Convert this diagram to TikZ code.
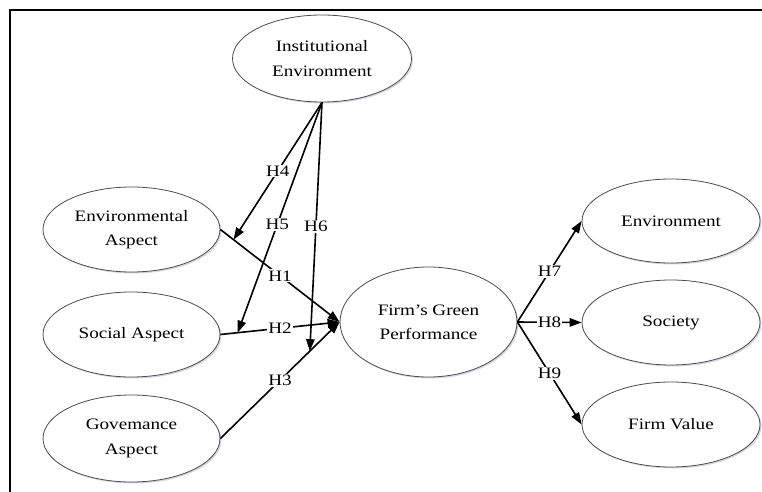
\documentclass[tikz,border=0pt]{standalone}
\usepackage{fontspec}
\setmainfont{Liberation Serif}[FakeStretch=1.2]
\usetikzlibrary{shapes.geometric,arrows.meta,shadows}
\begin{document}
\begin{tikzpicture}[x=1bp,y=-1bp,
  el/.style={ellipse, draw=black!70, line width=0.8bp, fill=white,
    inner sep=0pt, minimum width=177bp, minimum height=85bp, align=center,
    font=\fontsize{16}{24.5}\selectfont,
    drop shadow={shadow xshift=1.5bp, shadow yshift=-1.5bp, fill=blue!30!gray, opacity=0.25}},
  conn/.style={line width=1.6bp, -{Triangle[length=12bp,width=8.5bp]}},
  lbl/.style={fill=white, inner sep=1bp, font=\fontsize{16}{18}\selectfont},
  frame/.style={line width=2.6bp}]
\useasboundingbox (0,0) rectangle (762,492);
\fill[white] (0,0) rectangle (762,492);
\draw[frame] (10,492) -- (10,10) -- (762,10);

\node[el, minimum width=179bp, minimum height=87bp] (inst) at (322,58.5) {Institutional\\Environment};
\node[el] (ea) at (131.5,229.5) {Environmental\\Aspect};
\node[el] (sa) at (131.5,334.5) {Social Aspect};
\node[el, minimum height=87bp] (ga) at (131.5,438.5) {Govemance\\Aspect};
\node[el, minimum height=110bp] (fgp) at (428.5,322) {Firm{\char"27}s Green\\Performance};
\node[el, minimum width=178bp, minimum height=84bp] (env) at (671,221) {Environment};
\node[el, minimum width=178bp] (soc) at (671,322.5) {Society};
\node[el, minimum width=178bp] (fv) at (671,424.5) {Firm Value};

\path (ea.east) -- (fgp.west) coordinate[pos=0.11] (m1);
\path (sa.east) -- (fgp.west) coordinate[pos=0.145] (m2);
\path (ga.east) -- (fgp.west) coordinate[pos=0.75] (m3);

\draw[conn] (ea.east) -- node[lbl] {H1} (fgp.west);
\draw[conn] (sa.east) -- node[lbl] {H2} (fgp.west);
\draw[conn] (ga.east) -- node[lbl] {H3} (fgp.west);

\draw[conn] (inst.south) -- node[lbl] {H4} (m1);
\draw[conn] (inst.south) -- node[lbl, pos=0.53] {H5} (m2);
\draw[conn] (inst.south) -- node[lbl] {H6} (m3);

\draw[conn] (fgp.east) -- node[lbl] {H7} (env.west);
\draw[conn] (fgp.east) -- node[lbl] {H8} (soc.west);
\draw[conn] (fgp.east) -- node[lbl] {H9} (fv.west);
\end{tikzpicture}
\end{document}
